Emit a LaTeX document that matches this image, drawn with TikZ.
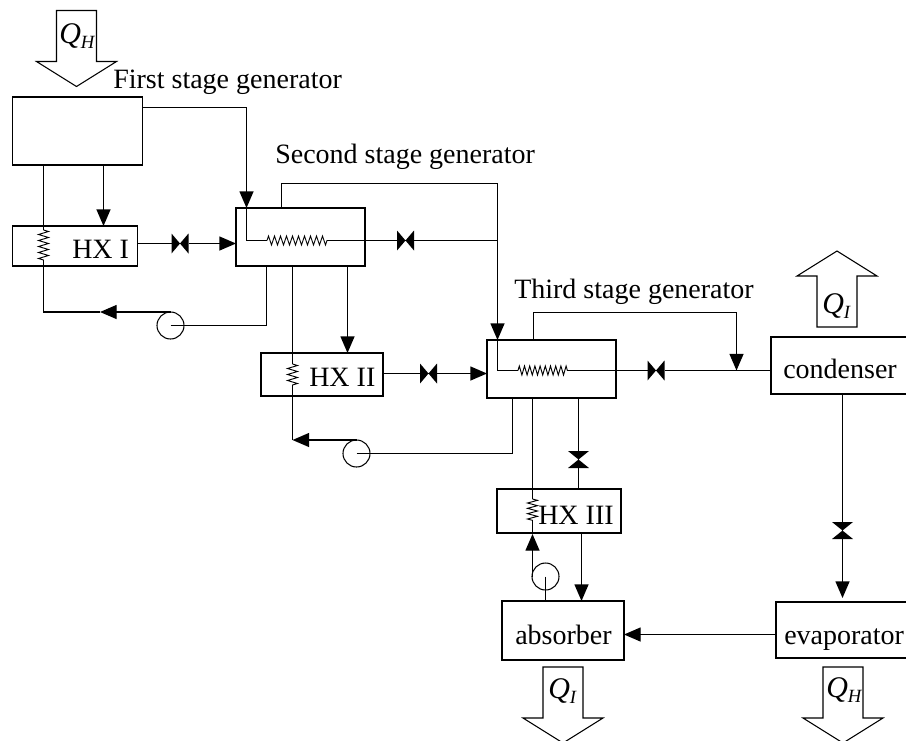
\documentclass[tikz,border=0pt]{standalone}
\usepackage{fontspec}
\setmainfont{Liberation Serif}
\usetikzlibrary{arrows.meta,decorations.pathmorphing}
\newcommand{\heat}[1]{{\fontsize{22.5pt}{24pt}\selectfont\textit{Q}}\raisebox{-.4ex}{\fontsize{14pt}{15pt}\selectfont\textit{#1}}}
\def\px{.75pt}
\tikzset{
  unit/.style={draw, line width=1pt, inner sep=0pt, outer sep=0pt},
  lbl/.style={inner sep=0pt, font=\fontsize{21pt}{23pt}\selectfont},
  pipe/.style={line width=1pt},
  flow/.style={line width=1pt, -{Triangle[length=12.5pt,width=10.5pt]}},
  pump/.style={draw, circle, line width=.8pt, minimum size=27*\px, inner sep=0pt, outer sep=0pt},
  coil/.style={line width=.7pt, decorate, decoration={zigzag, amplitude=#1*\px, segment length=4.5pt}},
  coil/.default=4.5,
  valveh/.style={inner sep=0pt, outer sep=0pt, minimum width=17*\px, minimum height=20*\px,
    path picture={\fill (path picture bounding box.north west) -- (path picture bounding box.south east)
      -- (path picture bounding box.north east) -- (path picture bounding box.south west) -- cycle;}},
  valvev/.style={inner sep=0pt, outer sep=0pt, minimum width=21*\px, minimum height=17*\px,
    path picture={\fill (path picture bounding box.north west) -- (path picture bounding box.north east)
      -- (path picture bounding box.south west) -- (path picture bounding box.south east) -- cycle;}},
  heatarrow/.pic={\draw [line width=.8pt] (-20,0) -- (20,0) -- (20,51) -- (40,51) -- (0,76)
    -- (-40,51) -- (-20,51) -- cycle;}
}
\begin{document}
\begin{tikzpicture}[x=.75pt,y=-.75pt]
\useasboundingbox (0,0) rectangle (906,740);
% vessels
\node [unit, minimum width=129.5*\px, minimum height=68*\px] (genone) at (77.5,131) {};
\node [unit, minimum width=129*\px, minimum height=58*\px] (gentwo) at (300.5,237) {};
\node [unit, minimum width=129*\px, minimum height=58*\px] (genthree) at (551.5,369) {};
\node [unit, minimum width=124.5*\px, minimum height=40*\px] (hxone) at (75,246) {};
\node [unit, minimum width=122*\px, minimum height=43*\px] (hxtwo) at (322,374.5) {};
\node [unit, minimum width=124*\px, minimum height=44*\px] (hxthree) at (559,511) {};
\node [unit, minimum width=137*\px, minimum height=57*\px] (condenser) at (839.5,365.5) {};
\node [unit, minimum width=134*\px, minimum height=56*\px] (evaporator) at (843,630) {};
\node [unit, minimum width=122*\px, minimum height=59*\px] (absorber) at (563,630.5) {};
% labels
\node [lbl, anchor=base west] (genonetxt) at (113,88) {First stage generator};
\node [lbl, anchor=base west] (gentwotxt) at (275,163) {Second stage generator};
\node [lbl, anchor=base west] (genthreetxt) at (514,298) {Third stage generator};
\node [lbl, anchor=base west] (hxonetxt) at (72,258) {HX I};
\node [lbl, anchor=base west] (hxtwotxt) at (309,386) {HX II};
\node [lbl, anchor=base west] (hxthreetxt) at (538,524) {HX III};
\node [lbl, anchor=base west] (condensertxt) at (783,378) {condenser};
\node [lbl, anchor=base west] (evaporatortxt) at (784,644) {evaporator};
\node [lbl, anchor=base west] (absorbertxt) at (515,644) {absorber};
% heat flows
\pic at (76.5,10.5) {heatarrow};
\pic [yscale=-1] at (837,327) {heatarrow};
\pic at (563,667) {heatarrow};
\pic at (843,667) {heatarrow};
\node [lbl, anchor=base west] (qhin) at (59,43) {\heat{H}};
\node [lbl, anchor=base west] (qiup) at (822,313) {\heat{I}};
\node [lbl, anchor=base west] (qiout) at (548,698) {\heat{I}};
\node [lbl, anchor=base west] (qhout) at (826,697) {\heat{H}};
% valves and pumps
\node [valveh] (valveone) at (180,243.5) {};
\node [valveh] (valvetwo) at (405.5,240.5) {};
\node [valveh] (valvethree) at (428.5,373.5) {};
\node [valveh] (valvefour) at (656,370.5) {};
\node [valvev] (valvefive) at (578.5,459.5) {};
\node [valvev] (valvesix) at (842.5,530.5) {};
\node [pump] (pumpone) at (170.5,325.5) {};
\node [pump] (pumptwo) at (356.5,453.5) {};
\node [pump] (pumpthree) at (545.5,576.5) {};
% coil ends
\coordinate (coiltwoa) at (267,240.5);
\coordinate (coiltwob) at (328,240.5);
\coordinate (coilthreea) at (518,370.5);
\coordinate (coilthreeb) at (569,370.5);
\coordinate (coilhxonea) at (43.5,230);
\coordinate (coilhxoneb) at (43.5,262);
\coordinate (coilhxtwoa) at (292.5,364);
\coordinate (coilhxtwob) at (292.5,387);
\coordinate (coilhxthreea) at (532.5,499);
\coordinate (coilhxthreeb) at (532.5,521);
\draw [coil] (coiltwoa) -- (coiltwob);
\draw [coil, decoration={segment length=3.9pt}] (coilthreea) -- (coilthreeb);
\draw [coil=5] (coilhxonea) -- (coilhxoneb);
\draw [coil=5] (coilhxtwoa) -- (coilhxtwob);
\draw [coil=5, decoration={segment length=4pt}] (coilhxthreea) -- (coilhxthreeb);
% first stage
\coordinate (vapone) at (246.5,107.5);
\draw [flow] (genone.east |- vapone) -- (vapone) -- (vapone |- gentwo.north);
\draw [pipe] (vapone |- gentwo.north) |- (coiltwoa);
\draw [pipe] (coiltwob) -- (valvetwo);
\coordinate (jointtwo) at (497.5,183.5);
\coordinate (vaptwo) at (281.5,183.5);
\draw [pipe] (vaptwo |- gentwo.north) -- (vaptwo) -- (jointtwo);
\draw [flow] (jointtwo) -- (jointtwo |- genthree.north);
\draw [pipe] (jointtwo |- genthree.north) |- (coilthreea);
\draw [pipe] (valvetwo) -- (jointtwo |- valvetwo);
\draw [flow] (103.5,165) -- (103.5,226);
\draw [pipe] (coilhxonea |- genone.south) -- (coilhxonea);
\coordinate (backone) at (coilhxonea |- pumpone.north);
\coordinate (tipone) at (100,0 |- pumpone.north);
\draw [pipe] (coilhxoneb) -- (backone) -- (tipone);
\draw [flow] (pumpone.north) -- (tipone);
\coordinate (outone) at (266.5,266);
\draw [pipe] (pumpone.center) -| (outone);
\draw [pipe] (hxone.east |- valveone) -- (valveone);
\draw [flow] (valveone) -- (gentwo.west |- valveone);
% second stage
\draw [flow] (347.5,266) -- (347.5,353);
\draw [pipe] (coilhxtwoa |- gentwo.south) -- (coilhxtwoa);
\coordinate (backtwo) at (coilhxtwoa |- pumptwo.north);
\draw [pipe] (coilhxtwob) -- (backtwo);
\draw [flow] (pumptwo.north) -- (backtwo);
\coordinate (outtwo) at (512.5,398);
\draw [pipe] (pumptwo.center) -| (outtwo);
\draw [pipe] (hxtwo.east |- valvethree) -- (valvethree);
\draw [flow] (valvethree) -- (genthree.west |- valvethree);
% third stage
\draw [pipe] (coilthreeb) -- (valvefour);
\draw [pipe] (valvefour) -- (condenser.west |- valvefour);
\coordinate (vapthree) at (533.5,312.5);
\coordinate (cornerthree) at (736.5,312.5);
\coordinate (jointthree) at (736.5,370.5);
\draw [pipe] (vapthree |- genthree.north) -- (vapthree) -- (cornerthree);
\draw [flow] (cornerthree) -- (jointthree);
\draw [pipe] (coilhxthreea |- genthree.south) -- (coilhxthreea);
\coordinate (backthree) at (532.5,577);
\coordinate (tipthree) at (532.5,534);
\draw [flow] (backthree) -- (tipthree);
\draw [pipe] (coilhxthreeb) -- (tipthree);
\draw [pipe] (pumpthree.center) -- (pumpthree.center |- absorber.north);
\draw [pipe] (valvefive |- genthree.south) -- (valvefive);
\draw [pipe] (valvefive) -- (valvefive |- hxthree.north);
\draw [flow] (581.5,533) -- (581.5,601);
% condenser loop
\draw [pipe] (valvesix |- condenser.south) -- (valvesix);
\draw [flow] (valvesix) -- (842.5,598);
\draw [flow] (evaporator.west |- 0,634.5) -- (absorber.east |- 0,634.5);
\end{tikzpicture}
\end{document}
